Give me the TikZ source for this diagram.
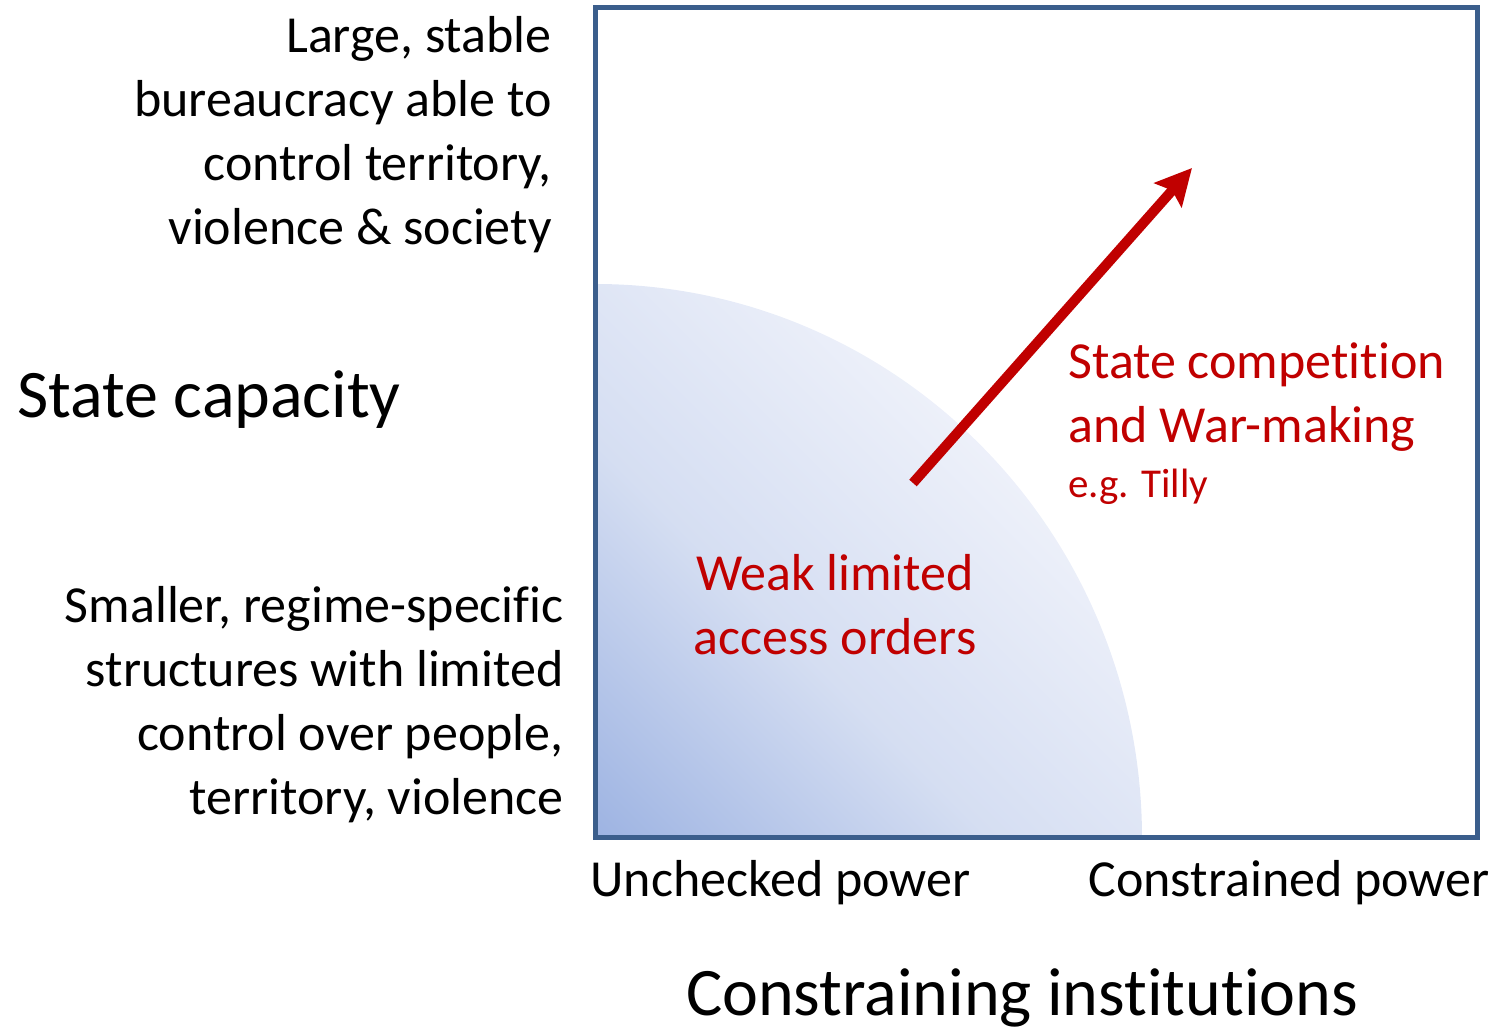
\documentclass[tikz,border=0pt]{standalone}
\usepackage{fontspec}
\setmainfont{Carlito}[Ligatures=NoCommon]
\usetikzlibrary{arrows.meta}

\definecolor{boxblue}{HTML}{3B5E8C}
\definecolor{warred}{HTML}{C00000}
\definecolor{shadedark}{HTML}{9DB3E2}
\definecolor{shademid}{HTML}{D5DEF2}
\definecolor{shadelight}{HTML}{EEF1FA}

\tikzset{
    sidetext/.style={inner sep=0pt, font=\fontsize{26pt}{32pt}\selectfont},
    axistext/.style={inner sep=0pt, font=\fontsize{34pt}{40pt}\selectfont},
    redtext/.style={sidetext, text=warred},
}

\begin{document}
\begin{tikzpicture}[x=0.5pt, y=0.5pt]
    \useasboundingbox (0,0) rectangle (1496,1028);

    \begin{scope}
        \clip (595,190) -- (1142,190) arc[start angle=0, end angle=90, x radius=547, y radius=554] -- cycle;
        \shade[transform canvas={rotate around={45:(595,190)}}, left color=shadedark, right color=shadelight, middle color=shademid] (595,-410) rectangle (1155,790);
    \end{scope}
    \draw[color=boxblue, line width=2.5pt] (595,190) rectangle (1477,1020);

    \node[sidetext, anchor=east, align=right] (bigstate) at (552,893) {Large, stable\\bureaucracy able to\\control territory,\\violence \& society};
    \node[sidetext, anchor=east, align=right] (smallstate) at (564,323) {Smaller, regime-specific\\structures with limited\\control over people,\\territory, violence};
    \node[axistext, anchor=base west] (capacity) at (17,610) {State capacity};

    \node[sidetext, anchor=base west] (unchecked) at (590,131) {Unchecked power};
    \node[sidetext, anchor=base east] (constrained) at (1490,131) {Constrained power};
    \node[axistext, anchor=base] (institutions) at (1022,12) {Constraining institutions};

    \node[redtext, align=center] (weak) at (835,423) {Weak limited\\access orders};
    \node[redtext, anchor=west, align=left] (war) at (1068,631) {State competition\\and War-making};
    \node[redtext, anchor=base west, font=\fontsize{20.5pt}{24pt}\selectfont] (tilly) at (1068,530) {e.g. Tilly};

    \coordinate (warstart) at (913,545);
    \coordinate (warend) at (1192,860);
    \draw[-{Stealth[length=18pt, width=18pt, inset=3pt]}, color=warred, line width=5pt] (warstart) -- (warend);
\end{tikzpicture}
\end{document}
